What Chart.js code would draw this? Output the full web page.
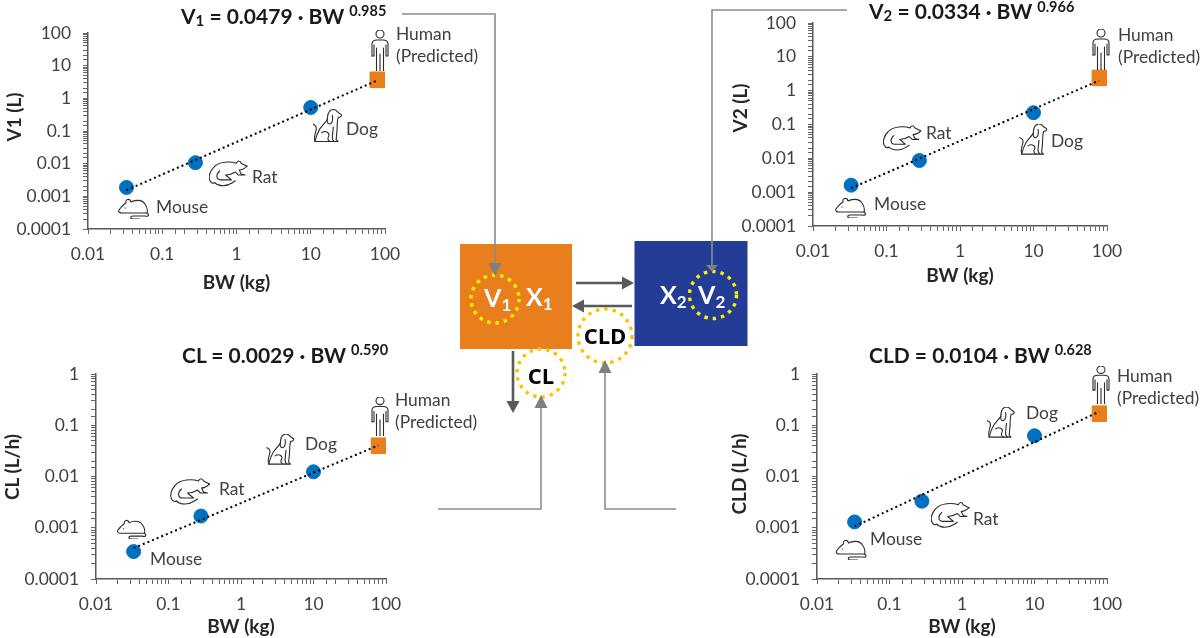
<!DOCTYPE html>
<html>
<head>
<meta charset="utf-8">
<title>Allometric scaling</title>
<script src="https://cdn.jsdelivr.net/npm/chart.js@4"></script>
<style>
    html, body { margin: 0; padding: 0; background: #fff; overflow: hidden; }
    canvas { position: absolute; }
    #overlay { position: absolute; left: 0; top: 0; pointer-events: none; font-family: Lato, sans-serif; }
    .lbl { font-size: 17.4px; fill: #404040; dominant-baseline: central; transform: translateY(-1px); }
    .eq { font-size: 21px; font-weight: 700; fill: #1a1a1a; dominant-baseline: central; }
    .axt { font-size: 19px; font-weight: 700; fill: #262626; text-anchor: middle; dominant-baseline: central; }
    .box { font-size: 25px; font-weight: 700; fill: #fff; dominant-baseline: central; }
    .rate { font-size: 22px; font-weight: 700; fill: #000; text-anchor: middle; dominant-baseline: central; font-family: "Open Sans", sans-serif; }
    .ic * { fill: none; stroke: #2b2b2b; stroke-width: 1.1; stroke-linecap: round; stroke-linejoin: round; vector-effect: non-scaling-stroke; }
    .conn { fill: none; stroke: #8c8c8c; stroke-width: 1.6; }
    .flow { stroke: #595959; stroke-width: 2.6; }
</style>
</head>
<body>
<canvas id="chartV1"></canvas>
<canvas id="chartV2"></canvas>
<canvas id="chartCL"></canvas>
<canvas id="chartCLD"></canvas>

<svg id="overlay" width="1200" height="638" xmlns="http://www.w3.org/2000/svg">
    <defs>
        <symbol id="mouse" viewBox="0 0 32 21" class="ic">
            <path d="M1 12 C4 8 6 6 8 5 C7 1 12 0 13 4 C16 2 24 1 27 6 C29 9 30 12 29 15 L4 15 C2 15 0 14 1 12 Z"/>
            <path d="M29 15 C32 17 30 19 27 18 L15 18 C12 18 12 21 15 21 L22 21"/>
            <path d="M7 10 L7.2 10"/>
        </symbol>
        <symbol id="rat" viewBox="0 0 40 27" class="ic">
            <path d="M39 6 L33 3 C32 0 29 0 28 3 C22 1 10 1 5 7 C1 11 -1 17 1 21 C2 23 4 24 6 23"/>
            <path d="M39 6 C37 8 34 10 31 10 L33 14 L37 15 L30 15 L27 12 C24 14 20 15 17 15 L23 20 L12 20 C7 20 7 14 11 11"/>
            <path d="M6 23 C10 27 18 27 24 23 L27 21"/>
        </symbol>
        <symbol id="dog" viewBox="0 0 30 34" class="ic">
            <path d="M15 8 C15 3 18 0 21 0 C24 0 25 2 26 3 L29 5 C30 6 29 8 27 8 L26 8 C25 12 25 15 25 18 C25 23 24 28 24 31 L26 33 L2 33 C3 29 4 25 7 20 C10 16 13 13 15 10"/>
            <path d="M15 8 C14 12 15 15 17 15 C20 15 21 10 20 6"/>
            <path d="M0 15 C3 16 4 19 3 22 C2 25 1 29 2 33"/>
            <path d="M9 24 C13 21 18 24 16 28 C15 30 15 32 18 33"/>
            <path d="M21 18 L20 28 C20 30 20 32 22 33"/>
        </symbol>
        <symbol id="human" viewBox="0 0 18 41" class="ic" preserveAspectRatio="none">
            <circle cx="9" cy="4" r="4"/>
            <path d="M1 26 L1 14 C1 11 3 10 6 10 L12 10 C15 10 17 11 17 14 L17 26 L15 26 L15 15"/>
            <path d="M3 15 L3 26 L1 26"/>
            <path d="M5.5 18 L5.5 41 M9 24 L9 41 M12.5 18 L12.5 41"/>
        </symbol>
    </defs>

    <!-- icons -->
    <use href="#human" x="371" y="30" width="18" height="41"/>
    <use href="#dog" x="313" y="109" width="29" height="34"/>
    <use href="#rat" x="209" y="160" width="39" height="27"/>
    <use href="#mouse" x="118" y="198" width="32" height="21"/>

    <use href="#human" x="1092" y="29" width="18" height="41"/>
    <use href="#dog" x="1019" y="124" width="29" height="31"/>
    <use href="#rat" x="883" y="125" width="39" height="26"/>
    <use href="#mouse" x="835" y="197" width="32" height="21"/>

    <use href="#human" x="371" y="397" width="18" height="39"/>
    <use href="#dog" x="264" y="434" width="33" height="31"/>
    <use href="#rat" x="169" y="478" width="43" height="27"/>
    <use href="#mouse" x="116" y="519" width="32" height="20"/>

    <use href="#human" x="1092" y="366" width="18" height="38"/>
    <use href="#dog" x="985" y="407" width="32" height="31"/>
    <use href="#rat" x="931" y="501" width="39" height="28"/>
    <use href="#mouse" x="835" y="539" width="33" height="21"/>

    <!-- species labels -->
    <text class="lbl" x="396" y="34">Human</text><text class="lbl" x="396" y="56">(Predicted)</text>
    <text class="lbl" x="346" y="129">Dog</text><text class="lbl" x="252" y="177">Rat</text><text class="lbl" x="156" y="207">Mouse</text>

    <text class="lbl" x="1118" y="35">Human</text><text class="lbl" x="1118" y="57">(Predicted)</text>
    <text class="lbl" x="1051" y="141">Dog</text><text class="lbl" x="926" y="133">Rat</text><text class="lbl" x="874" y="204">Mouse</text>

    <text class="lbl" x="395" y="400">Human</text><text class="lbl" x="395" y="422">(Predicted)</text>
    <text class="lbl" x="305" y="444">Dog</text><text class="lbl" x="219" y="489">Rat</text><text class="lbl" x="150" y="559">Mouse</text>

    <text class="lbl" x="1117" y="376">Human</text><text class="lbl" x="1117" y="398">(Predicted)</text>
    <text class="lbl" x="1026" y="413">Dog</text><text class="lbl" x="973" y="519">Rat</text><text class="lbl" x="870" y="539">Mouse</text>

    <!-- equations -->
    <text class="eq" x="181" y="15">V<tspan dy="5" font-size="15">1</tspan><tspan dy="-5"> = 0.0479 · BW </tspan><tspan dy="-5" font-size="14.5">0.985</tspan></text>
    <text class="eq" x="869" y="10">V<tspan dy="5" font-size="15">2</tspan><tspan dy="-5"> = 0.0334 · BW </tspan><tspan dy="-4" font-size="14.5">0.966</tspan></text>
    <text class="eq" x="182" y="354">CL = 0.0029 · BW <tspan dy="-5" font-size="14.5">0.590</tspan></text>
    <text class="eq" x="869" y="354">CLD = 0.0104 · BW <tspan dy="-5" font-size="14.5">0.628</tspan></text>

    <!-- y axis titles -->
    <text class="axt" transform="translate(13 117) rotate(-90)">V1 (L)</text>
    <text class="axt" transform="translate(739 108) rotate(-90)">V2 (L)</text>
    <text class="axt" transform="translate(11 467) rotate(-90)">CL (L/h)</text>
    <text class="axt" transform="translate(738 474) rotate(-90)">CLD (L/h)</text>

    <!-- compartments -->
    <rect x="460" y="244" width="112" height="105" fill="#E87E1C"/>
    <rect x="634.5" y="241" width="113" height="105" fill="#233C96"/>

    <circle cx="495" cy="299" r="24" fill="none" stroke="#FFF200" stroke-width="3.4" stroke-dasharray="3.4 5"/>
    <circle cx="713" cy="295" r="23.5" fill="none" stroke="#FFF200" stroke-width="3.4" stroke-dasharray="3.4 5"/>
    <circle cx="605" cy="336" r="27" fill="#fff" stroke="#FFC000" stroke-width="3.4" stroke-dasharray="3.4 5"/>
    <circle cx="541" cy="373" r="24" fill="#fff" stroke="#FFC000" stroke-width="3.4" stroke-dasharray="3.4 5"/>

    <text class="box" x="484" y="297">V<tspan dy="7" font-size="17">1</tspan></text>
    <text class="box" x="526" y="296">X<tspan dy="7" font-size="17">1</tspan></text>
    <text class="box" x="660" y="294">X<tspan dy="7" font-size="17">2</tspan></text>
    <text class="box" x="698" y="294">V<tspan dy="7" font-size="17">2</tspan></text>
    <text class="rate" x="605" y="335">CLD</text>
    <text class="rate" x="541" y="375">CL</text>

    <!-- flows -->
    <line class="flow" x1="576" y1="283" x2="624" y2="283"/><path d="M634 283 L622 276.5 L622 289.5 Z" fill="#595959"/>
    <line class="flow" x1="632" y1="306" x2="582" y2="306"/><path d="M572 306 L584 299.5 L584 312.5 Z" fill="#595959"/>
    <line class="flow" x1="513" y1="351" x2="513" y2="403"/><path d="M513 413 L506.5 401 L519.5 401 Z" fill="#595959"/>

    <!-- connectors -->
    <path class="conn" d="M402 14 L495 14 L495 264"/><path d="M495 276 L488.5 263 L501.5 263 Z" fill="#808080"/>
    <path class="conn" d="M847 10 L712 10 L712 266"/><path d="M712 272 L706 265 L718 265 Z" fill="#808080"/>
    <path class="conn" d="M438 509 L541 509 L541 407"/><path d="M541 395 L534.5 408 L547.5 408 Z" fill="#808080"/>
    <path class="conn" d="M676 509 L605 509 L605 372"/><path d="M605 360 L598.5 373 L611.5 373 Z" fill="#808080"/>
</svg>

<script>
// body weight (kg): mouse, rat, dog, then predicted human
const animalBw = [0.033, 0.28, 10];
const humanBw = [80];
const fitBw = [0.033, 78];

const v1Animals = [0.00187, 0.0107, 0.525];
const v1Human = [3.7];
const v1Fit = [0.00155, 3.5];

const v2Animals = [0.00161, 0.0086, 0.223];
const v2Human = [2.38];
const v2Fit = [0.00131, 1.98];

const clAnimals = [0.000343, 0.00169, 0.01236];
const clHuman = [0.0398];
const clFit = [0.0004, 0.0403];

const cldAnimals = [0.0013, 0.0033, 0.0624];
const cldHuman = [0.168];
const cldFit = [0.00106, 0.184];

const xTickLabels = ["0.01", "0.1", "1", "10", "100"];
const yTickLabelsWide = ["0.0001", "0.001", "0.01", "0.1", "1", "10", "100"];
const yTickLabelsNarrow = ["0.0001", "0.001", "0.01", "0.1", "1"];

const fontFamily = "Lato, sans-serif";

function points(xs, ys) {
    return xs.map((x, i) => ({ x: x, y: ys[i] }));
}

// only the decades get a label, the rest stay as plain tick marks
function decadeLabel(value, labels, minExp) {
    const exp = Math.log10(value);
    if (Math.abs(exp - Math.round(exp)) > 1e-6) return "";
    return labels[Math.round(exp) - minExp] ?? "";
}

function axisBase() {
    return {
        type: "logarithmic",
        border: { display: true, color: "#595959", width: 1.5 },
        grid: { drawOnChartArea: false, drawTicks: true, tickLength: 5, tickColor: "#666", tickWidth: 1 }
    };
}

// plot rect is fixed so all four panels land where the figure has them
function makePanel(id, rect, animals, human, fit, yMax, yLabels, yMinExp) {
    const padLeft = 88, padTop = 12, padRight = 24;
    const canvas = document.getElementById(id);
    const plotW = rect.right - rect.left;
    const plotH = rect.bottom - rect.top;
    const axisH = rect.titleOffset + 11;
    canvas.width = padLeft + plotW + padRight;
    canvas.height = padTop + plotH + axisH;
    canvas.style.left = (rect.left - padLeft) + "px";
    canvas.style.top = (rect.top - padTop) + "px";

    // the label overhang would otherwise shrink the plot area
    const dropPadding = s => {
        s.paddingTop = 0;
        s.paddingBottom = 0;
        s.paddingLeft = 0;
        s.paddingRight = 0;
    };

    new Chart(canvas.getContext("2d"), {
        type: "scatter",
        data: {
            datasets: [
                {
                    label: "Fit",
                    data: points(fitBw, fit),
                    showLine: true,
                    borderColor: "#000",
                    borderWidth: 2,
                    borderDash: [2, 3],
                    pointRadius: 0,
                    order: 0
                },
                {
                    label: "Animals",
                    data: points(animalBw, animals),
                    backgroundColor: "#0070C0",
                    borderColor: "#0070C0",
                    pointStyle: "circle",
                    pointRadius: 7,
                    order: 1
                },
                {
                    label: "Human (Predicted)",
                    data: points(humanBw, human),
                    backgroundColor: "#E87E1C",
                    borderColor: "#E87E1C",
                    pointStyle: "rect",
                    pointRadius: 11,
                    order: 1
                }
            ]
        },
        options: {
            responsive: false,
            animation: false,
            layout: { autoPadding: false, padding: { top: padTop, right: padRight, left: 0, bottom: 0 } },
            plugins: { legend: { display: false }, tooltip: { enabled: false } },
            scales: {
                x: {
                    ...axisBase(),
                    min: 0.01,
                    max: 100,
                    title: {
                        display: true,
                        text: "BW (kg)",
                        color: "#262626",
                        font: { family: fontFamily, size: 19, weight: "bold" },
                        padding: 0
                    },
                    ticks: {
                        autoSkip: false,
                        maxRotation: 0,
                        padding: 10,
                        color: "#404040",
                        font: { family: fontFamily, size: 17.4 },
                        callback: v => decadeLabel(v, xTickLabels, -2)
                    },
                    afterFit: s => { s.height = axisH; dropPadding(s); }
                },
                y: {
                    ...axisBase(),
                    min: 0.0001,
                    max: yMax,
                    ticks: {
                        autoSkip: false,
                        padding: 12,
                        color: "#404040",
                        font: { family: fontFamily, size: 17.4 },
                        callback: v => decadeLabel(v, yLabels, yMinExp)
                    },
                    afterFit: s => { s.width = padLeft; dropPadding(s); }
                }
            }
        }
    });
}

makePanel("chartV1", { left: 88, right: 385, top: 33, bottom: 229, titleOffset: 54 }, v1Animals, v1Human, v1Fit, 100, yTickLabelsWide, -4);
makePanel("chartV2", { left: 813, right: 1107, top: 23, bottom: 226, titleOffset: 50 }, v2Animals, v2Human, v2Fit, 100, yTickLabelsWide, -4);
makePanel("chartCL", { left: 96, right: 386, top: 374, bottom: 579, titleOffset: 48 }, clAnimals, clHuman, clFit, 1, yTickLabelsNarrow, -4);
makePanel("chartCLD", { left: 817, right: 1107, top: 374, bottom: 579, titleOffset: 48 }, cldAnimals, cldHuman, cldFit, 1, yTickLabelsNarrow, -4);
</script>
</body>
</html>
